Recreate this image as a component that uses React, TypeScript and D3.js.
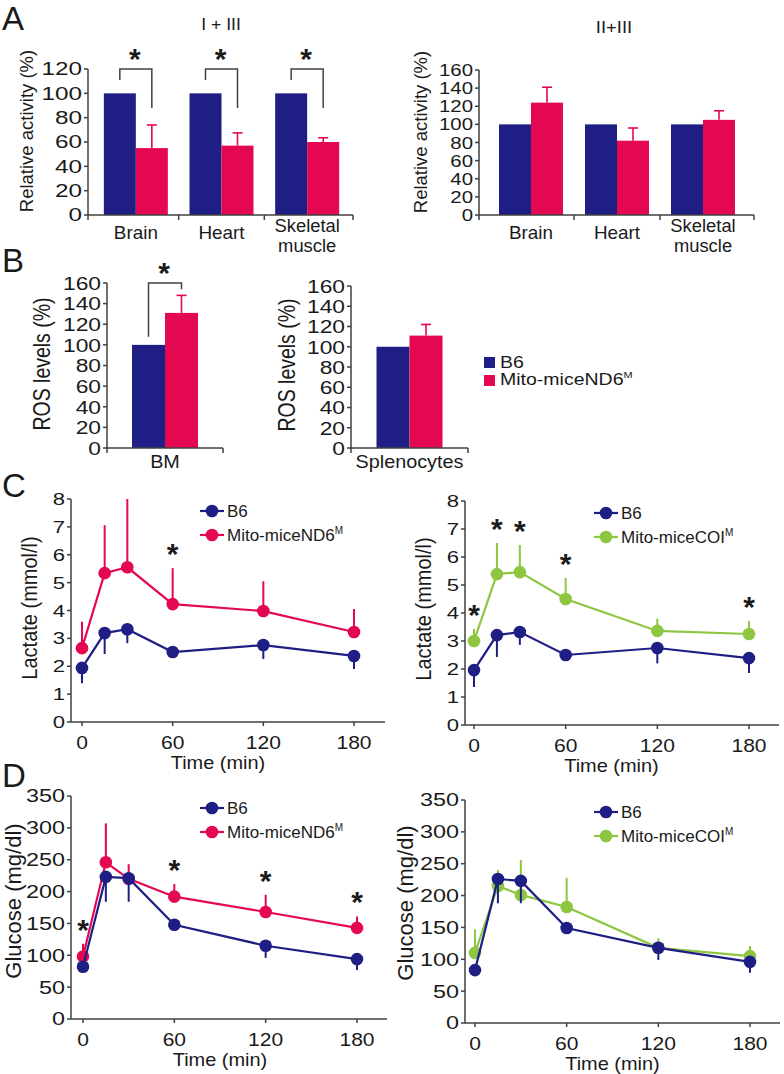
import React from "react";
import * as d3 from "d3";

const BLUE = "#1e1e84";
const PINK = "#e3084f";
const GREEN = "#8dc641";
const INK = "#1a1a1a";
const AXIS = "#404040";
const FONT = "'Liberation Sans', Arial, Helvetica, sans-serif";

// A: complex I+III and II+III activity (%)
const organs = ["Brain", "Heart", "Skeletal muscle"];
const c13B6 = [100, 100, 100];
const c13ND6 = [55, 57, 60];
const c13ND6Err = [19, 10.5, 3.5];
const c13Sig = [0, 1, 2];
const c23B6 = [100, 100, 100];
const c23ND6 = [124, 82, 105];
const c23ND6Err = [17, 14, 10];
const c23Sig: number[] = [];

// B: ROS levels (%)
const bmCat = ["BM"];
const bmB6 = [100];
const bmND6 = [131];
const bmND6Err = [17];
const bmSig = [0];
const splCat = ["Splenocytes"];
const splB6 = [100];
const splND6 = [111];
const splND6Err = [11];
const splSig: number[] = [];

// C, D: time course after injection
const times = [0, 15, 30, 60, 120, 180];
const timeTicks = [0, 60, 120, 180];
const lacB6a = [1.94, 3.19, 3.33, 2.51, 2.76, 2.37];
const lacB6aErr = [0.55, 0.75, 0.5, 0, 0.5, 0.47];
const lacND6 = [2.65, 5.34, 5.55, 4.23, 3.98, 3.23];
const lacND6Err = [0.95, 1.72, 2.45, 1.29, 1.07, 0.82];
const lacND6Sig = [60];
const lacB6b = [1.96, 3.21, 3.32, 2.5, 2.75, 2.39];
const lacB6bErr = [0.6, 0.78, 0.46, 0, 0.55, 0.53];
const lacCOI = [3.0, 5.39, 5.46, 4.5, 3.36, 3.25];
const lacCOIErr = [0.43, 1.11, 0.97, 0.75, 0.44, 0.46];
const lacCOISig = [0, 15, 30, 60, 180];
const gluB6a = [82, 223, 221, 148, 115, 94];
const gluB6aErr = [8, 39, 37, 0, 19, 17];
const gluND6 = [98, 246, 220, 192, 168, 143];
const gluND6Err = [20, 61, 23, 20, 27, 18];
const gluND6Sig = [0, 60, 120, 180];
const gluB6b = [83, 226, 223, 149, 118, 96];
const gluB6bErr = [8, 38, 35, 0, 19, 17];
const gluCOI = [110, 215, 201, 182, 118, 105];
const gluCOIErr = [37, 25, 55, 46, 15, 16];
const gluCOISig: number[] = [];

function Txt({ x, y, size, sx = 1, anchor = "start", rot = false, bold = false, fill = INK, children }: any) {
  return (
    <text
      transform={`translate(${x},${y}) scale(${sx},1)${rot ? " rotate(-90)" : ""}`}
      fontSize={size}
      fontFamily={FONT}
      textAnchor={anchor}
      fontWeight={bold ? "bold" : "normal"}
      fill={fill}
    >
      {children}
    </text>
  );
}

function YAxis({ scale, ticks, x, size, sx }: any) {
  const [r0, r1] = scale.range();
  return (
    <g>
      <line x1={x} x2={x} y1={r0} y2={r1} stroke={AXIS} strokeWidth={1.5} />
      {ticks.map((t: number) => (
        <g key={t}>
          <line x1={x - 4} x2={x} y1={scale(t)} y2={scale(t)} stroke={AXIS} strokeWidth={1.5} />
          <Txt x={x - 6} y={scale(t) + size * 0.36} size={size} sx={sx} anchor="end">{t}</Txt>
        </g>
      ))}
    </g>
  );
}

function Star({ x, y }: any) {
  // y is the visual centre of the asterisk
  return <Txt x={x} y={y + 17} size={30} bold anchor="middle">*</Txt>;
}

function BarPanel(p: any) {
  const y = d3.scaleLinear().domain([0, p.yMax]).range([p.y0, p.yTop]);
  const x = d3.scaleBand().domain(p.cats).range(p.band);
  const ticks = d3.range(0, p.yMax + 1, p.yStep);
  const bw = x.bandwidth();
  return (
    <g>
      {p.cats.map((c: string, i: number) => {
        const cx = (x(c) as number) + bw / 2;
        const top = y(p.mut[i] + p.err[i]);
        const lines = c.split(" ");
        return (
          <g key={c}>
            <rect x={cx - p.barW} y={y(p.b6[i])} width={p.barW} height={p.y0 - y(p.b6[i])} fill={BLUE} />
            <rect x={cx} y={y(p.mut[i])} width={p.barW} height={p.y0 - y(p.mut[i])} fill={PINK} />
            <line x1={cx + p.barW / 2} x2={cx + p.barW / 2} y1={y(p.mut[i])} y2={top} stroke={PINK} strokeWidth={1.6} />
            <line x1={cx + p.barW / 2 - 5} x2={cx + p.barW / 2 + 5} y1={top} y2={top} stroke={PINK} strokeWidth={1.6} />
            {lines.length === 1 ? (
              <Txt x={cx} y={p.catY} size={p.catSize} sx={p.catSx} anchor="middle">{lines[0]}</Txt>
            ) : (
              lines.map((l: string, j: number) => (
                <Txt key={l} x={cx} y={p.catY - 7 + j * 20} size={17.5} sx={p.catSx} anchor="middle">{l}</Txt>
              ))
            )}
            {p.sig.includes(i) && (
              <g>
                <path
                  d={`M${cx - p.barW / 2},${y(p.sigLeft)}V${y(p.sigTop)}H${cx + p.barW / 2}V${y(p.sigRight)}`}
                  fill="none"
                  stroke={AXIS}
                  strokeWidth={1.5}
                />
                <Star x={cx - 1} y={y(p.sigTop) - 17} />
              </g>
            )}
          </g>
        );
      })}
      <YAxis scale={y} ticks={ticks} x={p.axisX} size={p.tickSize} sx={p.tickSx} />
      <line x1={p.axisX} x2={p.axisEnd} y1={p.y0} y2={p.y0} stroke={AXIS} strokeWidth={1.5} />
      {[...p.cats.slice(1).map((c: string) => x(c) as number), p.axisX, p.axisEnd].map((t: number, i: number) => (
        <line key={i} x1={t} x2={t} y1={p.y0} y2={p.y0 + 5} stroke={AXIS} strokeWidth={1.5} />
      ))}
      <Txt x={p.labelX} y={p.labelY} size={p.labelSize} sx={p.labelSx} rot anchor="middle">{p.label}</Txt>
    </g>
  );
}

function LinePanel(p: any) {
  const x = d3.scaleLinear().domain([0, 180]).range([p.x0, p.x180]);
  const y = d3.scaleLinear().domain([0, p.yMax]).range([p.y0, p.yTop]);
  const ticks = d3.range(0, p.yMax + p.yStep / 2, p.yStep);
  const line = d3.line<number>().x((_, i) => x(times[i])).y((d) => y(d));
  const series = [
    { key: "mut", vals: p.mut, err: p.mutErr, dir: 1, color: p.color },
    { key: "b6", vals: p.b6, err: p.b6Err, dir: -1, color: BLUE },
  ];
  const lx = p.axisX + 129;
  const legend = [
    { name: "B6", color: BLUE },
    { name: p.name, color: p.color },
  ];
  return (
    <g>
      {series.map((s) => (
        <g key={s.key}>
          {s.vals.map((v: number, i: number) =>
            s.err[i] > 0 ? (
              <line key={i} x1={x(times[i])} x2={x(times[i])} y1={y(v)} y2={y(v + s.dir * s.err[i])} stroke={s.color} strokeWidth={2} />
            ) : null
          )}
          <path d={line(s.vals) as string} fill="none" stroke={s.color} strokeWidth={2.2} />
          {s.vals.map((v: number, i: number) => (
            <circle key={i} cx={x(times[i])} cy={y(v)} r={6.3} fill={s.color} />
          ))}
        </g>
      ))}
      {p.sig.map((t: number) => {
        const i = times.indexOf(t);
        return <Star key={t} x={x(t)} y={y(p.mut[i] + p.mutErr[i]) - 21} />;
      })}
      <YAxis scale={y} ticks={ticks} x={p.axisX} size={p.tickSize} sx={p.tickSx} />
      <line x1={p.axisX} x2={p.axisEnd} y1={p.y0} y2={p.y0} stroke={AXIS} strokeWidth={1.5} />
      {timeTicks.map((t) => (
        <g key={t}>
          <line x1={x(t)} x2={x(t)} y1={p.y0} y2={p.y0 + 4} stroke={AXIS} strokeWidth={1.5} />
          <Txt x={x(t)} y={p.y0 + 27} size={18} sx={1.17} anchor="middle">{t}</Txt>
        </g>
      ))}
      <Txt x={(p.x0 + p.x180) / 2} y={p.y0 + 47} size={19} sx={1.05} anchor="middle">Time (min)</Txt>
      <Txt x={p.labelX} y={p.labelY} size={p.labelSize} sx={p.labelSx} rot anchor="middle">{p.label}</Txt>
      {legend.map((l, i) => {
        const ly = p.yTop + 12 + i * 24;
        return (
          <g key={l.name}>
            <line x1={lx} x2={lx + 24} y1={ly} y2={ly} stroke={l.color} strokeWidth={2.2} />
            <circle cx={lx + 12} cy={ly} r={6.3} fill={l.color} />
            <Txt x={lx + 27} y={ly + 6} size={17}>
              {l.name}
              {i === 1 && <tspan fontSize={10} dy={-7}>M</tspan>}
            </Txt>
          </g>
        );
      })}
    </g>
  );
}

export default function App() {
  const barLeg = [
    { name: "B6", color: BLUE },
    { name: "Mito-miceND6", color: PINK },
  ];
  return (
    <svg width={784} height={1074} style={{ position: "absolute", left: 0, top: 0, background: "#fff" }}>
      <rect width={784} height={1074} fill="#fff" />
      {/* panel letters */}
      <Txt x={2} y={30} size={33}>A</Txt>
      <Txt x={2} y={272} size={33}>B</Txt>
      <Txt x={2} y={497} size={33}>C</Txt>
      <Txt x={2} y={787} size={33}>D</Txt>

      {/* A */}
      <Txt x={221} y={30} size={16} sx={1.1} anchor="middle">I + III</Txt>
      <BarPanel
        cats={organs} b6={c13B6} mut={c13ND6} err={c13ND6Err} sig={c13Sig}
        yMax={120} yStep={20} y0={215} yTop={69}
        axisX={88} axisEnd={353} band={[93, 350]} barW={32}
        tickSize={18} tickSx={1.35}
        label="Relative activity (%)" labelX={33} labelY={131} labelSize={18.5} labelSx={1}
        catY={239} catSize={18} catSx={1.05}
        sigTop={120} sigLeft={111} sigRight={88}
      />
      <Txt x={614} y={33} size={16} sx={1.15} anchor="middle">II+III</Txt>
      <BarPanel
        cats={organs} b6={c23B6} mut={c23ND6} err={c23ND6Err} sig={c23Sig}
        yMax={160} yStep={20} y0={215} yTop={70}
        axisX={479} axisEnd={754} band={[488, 746]} barW={32}
        tickSize={17} tickSx={1.2}
        label="Relative activity (%)" labelX={427} labelY={132} labelSize={18.5} labelSx={1}
        catY={239} catSize={18} catSx={1.05}
      />

      {/* B */}
      <BarPanel
        cats={bmCat} b6={bmB6} mut={bmND6} err={bmND6Err} sig={bmSig}
        yMax={160} yStep={20} y0={448} yTop={283}
        axisX={107} axisEnd={223} band={[107, 223]} barW={33}
        tickSize={19} tickSx={1.2}
        label="ROS levels (%)" labelX={50} labelY={364} labelSize={19.5} labelSx={1.2}
        catY={468} catSize={18} catSx={1.1}
        sigTop={160} sigLeft={108} sigRight={154}
      />
      <BarPanel
        cats={splCat} b6={splB6} mut={splND6} err={splND6Err} sig={splSig}
        yMax={160} yStep={20} y0={448} yTop={286}
        axisX={351} axisEnd={468} band={[351, 468]} barW={33}
        tickSize={19} tickSx={1.2}
        label="ROS levels (%)" labelX={295} labelY={365} labelSize={19.5} labelSx={1.2}
        catY={468} catSize={18} catSx={1.1}
      />
      {barLeg.map((l, i) => (
        <g key={l.name}>
          <rect x={484} y={357 + i * 18} width={11} height={11} fill={l.color} />
          <Txt x={500} y={368 + i * 17} size={16} sx={1.22}>
            {l.name}
            {i === 1 && <tspan fontSize={9} dy={-7}>M</tspan>}
          </Txt>
        </g>
      ))}

      {/* C */}
      <LinePanel
        b6={lacB6a} b6Err={lacB6aErr} mut={lacND6} mutErr={lacND6Err} sig={lacND6Sig}
        color={PINK} name="Mito-miceND6"
        yMax={8} yStep={1} y0={722} yTop={499}
        axisX={71} axisEnd={385} x0={82} x180={354}
        tickSize={17} tickSx={1.3}
        label="Lactate (mmol/l)" labelX={37} labelY={608} labelSize={20} labelSx={1.1}
      />
      <LinePanel
        b6={lacB6b} b6Err={lacB6bErr} mut={lacCOI} mutErr={lacCOIErr} sig={lacCOISig}
        color={GREEN} name="Mito-miceCOI"
        yMax={8} yStep={1} y0={725} yTop={501}
        axisX={465} axisEnd={779} x0={474} x180={749}
        tickSize={17} tickSx={1.3}
        label="Lactate (mmol/l)" labelX={431} labelY={609} labelSize={20} labelSx={1.1}
      />

      {/* D */}
      <LinePanel
        b6={gluB6a} b6Err={gluB6aErr} mut={gluND6} mutErr={gluND6Err} sig={gluND6Sig}
        color={PINK} name="Mito-miceND6"
        yMax={350} yStep={50} y0={1019} yTop={796}
        axisX={71} axisEnd={387} x0={83} x180={357}
        tickSize={18} tickSx={1.3}
        label="Glucose (mg/dl)" labelX={21} labelY={901} labelSize={22} labelSx={1}
      />
      <LinePanel
        b6={gluB6b} b6Err={gluB6bErr} mut={gluCOI} mutErr={gluCOIErr} sig={gluCOISig}
        color={GREEN} name="Mito-miceCOI"
        yMax={350} yStep={50} y0={1023} yTop={800}
        axisX={465} axisEnd={780} x0={475} x180={750}
        tickSize={18} tickSx={1.3}
        label="Glucose (mg/dl)" labelX={413} labelY={903} labelSize={22} labelSx={1}
      />
    </svg>
  );
}
